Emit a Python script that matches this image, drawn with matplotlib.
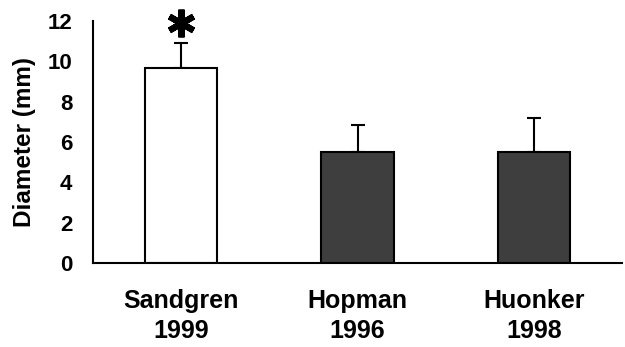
import numpy as np
import matplotlib.pyplot as plt

plt.rcParams['font.family'] = ['Liberation Sans', 'DejaVu Sans']
plt.rcParams['font.weight'] = 'bold'

studies = ["Sandgren\n1999", "Hopman\n1996", "Huonker\n1998"]
diameter = [9.7, 5.5, 5.5]
sd_upper = [1.2, 1.35, 1.7]
colors = ["white", "#3e3e3e", "#3e3e3e"]

fig = plt.figure(figsize=(6.25, 3.47), dpi=100)
ax = fig.add_axes([0.149, 0.242, 0.846, 0.697])

x = np.arange(len(studies))
ax.bar(x, diameter, width=0.41, color=colors, edgecolor="black", linewidth=1.5, zorder=2)
ax.errorbar(x, diameter, yerr=[np.zeros(3), sd_upper], fmt="none",
            ecolor="black", elinewidth=1.5, capsize=4.7, capthick=1.5, zorder=1)

# significance mark above the first bar (six-armed asterisk)
ax.plot(x[0], diameter[0] + sd_upper[0] + 1.0, marker=(6, 2, 0), ms=20, mew=4.5,
        color="black", clip_on=False)

ax.set_xlim(-0.5, 2.5)
ax.set_ylim(0, 12)
ax.set_yticks(range(0, 13, 2))
ax.set_xticks(x)
ax.set_xticklabels(studies, fontsize=18, fontweight="bold", linespacing=1.3)
ax.tick_params(axis="y", length=0, pad=15, labelsize=16)
ax.tick_params(axis="x", length=0, pad=19)
for lab in ax.get_yticklabels():
    lab.set_fontweight("bold")
ax.set_ylabel("Diameter (mm)", fontsize=17.5, fontweight="bold", labelpad=8)

ax.spines["top"].set_visible(False)
ax.spines["right"].set_visible(False)
ax.spines["left"].set_linewidth(1.5)
ax.spines["bottom"].set_linewidth(1.5)

fig.savefig("out.png", dpi=100)
